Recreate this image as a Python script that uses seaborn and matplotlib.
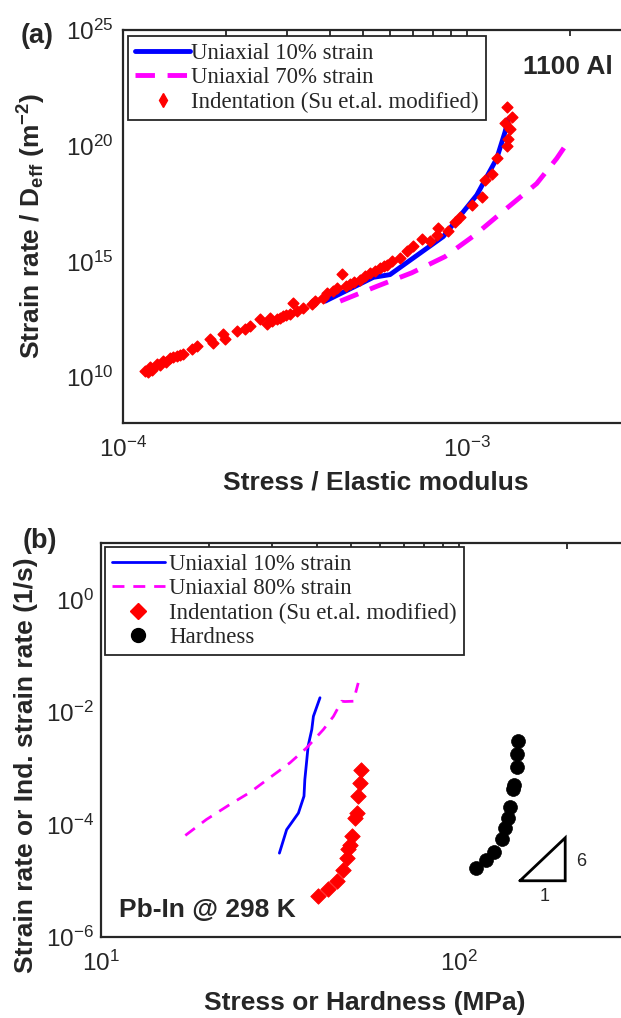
import numpy as np
import pandas as pd
import seaborn as sns
import matplotlib.pyplot as plt
from matplotlib.lines import Line2D
from matplotlib.ticker import FixedLocator, NullLocator, LogLocator, FuncFormatter

# ---- panel (a): 1100 Al ----
al_u10_x = [3.88e-4, 5.36e-4, 5.99e-4, 8.56e-4, 1.071e-3, 1.224e-3, 1.294e-3, 1.323e-3]
al_u10_y = [1.9e13, 2.04e14, 2.67e14, 1.18e16, 7.3e17, 2.74e19, 3.85e20, 1.43e21]

al_u70_x = [4.29e-4, 5.48e-4, 6.93e-4, 8.66e-4, 1.059e-3, 1.294e-3, 1.60e-3, 1.83e-3, 1.97e-3]
al_u70_y = [1.9e13, 8.3e13, 3.2e14, 1.6e15, 1.4e16, 1.7e17, 2.3e18, 2.8e19, 1.4e20]

al_ind_x = [1.161e-4, 1.186e-4, 1.199e-4, 1.22e-4, 1.256e-4, 1.28e-4, 1.312e-4, 1.34e-4,
            1.371e-4, 1.40e-4, 1.436e-4, 1.47e-4, 1.500e-4, 1.585e-4, 1.641e-4, 1.795e-4,
            1.832e-4, 1.959e-4, 1.982e-4, 2.143e-4, 2.270e-4, 2.344e-4, 2.506e-4, 2.624e-4,
            2.679e-4, 2.72e-4, 2.805e-4, 2.86e-4, 2.931e-4, 2.99e-4, 3.062e-4, 3.133e-4,
            3.206e-4, 3.350e-4, 3.548e-4, 3.622e-4, 3.828e-4, 3.917e-4, 4.093e-4, 4.2e-4,
            4.335e-4, 4.45e-4, 4.581e-4, 4.7e-4, 4.898e-4, 5.05e-4, 5.236e-4, 5.4e-4,
            5.598e-4, 5.75e-4, 5.861e-4, 6.053e-4, 6.397e-4, 6.699e-4, 6.998e-4, 7.413e-4,
            7.834e-4, 8.185e-4, 8.279e-4, 8.851e-4, 9.268e-4, 9.572e-4, 1.035e-3, 1.107e-3,
            1.132e-3, 1.183e-3, 1.225e-3, 1.309e-3, 1.324e-3, 1.340e-3, 1.294e-3, 1.355e-3,
            1.309e-3]
al_ind_y = [1.9e10, 1.6e10, 2.6e10, 2.1e10, 3.6e10, 3.2e10, 5.0e10, 4.3e10,
            6.6e10, 7.0e10, 8.3e10, 9.0e10, 9.8e10, 1.6e11, 2.2e11, 4.3e11,
            3.1e11, 7.1e11, 4.3e11, 9.8e11, 1.15e12, 1.6e12, 3.1e12, 1.9e12,
            3.6e12, 2.7e12, 3.1e12, 3.6e12, 4.3e12, 5.0e12, 5.4e12, 1.6e13,
            7.1e12, 9.8e12, 1.4e13, 1.9e13, 2.6e13, 4.4e13, 5.1e13, 7.0e13,
            2.8e14, 8.5e13, 1.0e14, 1.3e14, 1.6e14, 2.3e14, 3.2e14, 4.0e14,
            5.1e14, 6.0e14, 7.2e14, 1.0e15, 1.4e15, 2.7e15, 4.4e15, 9.3e15,
            7.8e15, 1.4e16, 2.7e16, 2.1e16, 5.2e16, 8.5e16, 2.7e17, 6.2e17,
            3.2e18, 6.2e18, 3.0e19, 1.0e20, 2.0e20, 5.4e20, 1.0e21, 1.7e21,
            4.6e21]

# ---- panel (b): Pb-In ----
pb_u10_x = [31.5, 33.0, 35.6, 36.9, 37.1, 37.5, 37.9, 38.8, 39.2, 40.9]
pb_u10_y = [3.1e-5, 8.1e-5, 1.6e-4, 3.2e-4, 6.3e-4, 1.25e-3, 2.5e-3, 4.9e-3, 8.4e-3, 1.8e-2]

pb_u80_x = [17.2, 19.7, 22.9, 26.1, 29.6, 33.7, 37.5, 41.8, 44.6, 47.0, 48.0, 50.7, 52.3]
pb_u80_y = [6.4e-5, 1.23e-4, 2.27e-4, 3.75e-4, 6.8e-4, 1.25e-3, 2.3e-3, 4.9e-3, 8.4e-3,
            1.56e-2, 1.54e-2, 1.56e-2, 3.3e-2]

pb_ind_x = [40.5, 43.1, 45.5, 47.5, 48.6, 49.0, 49.6, 50.1, 51.2, 51.8, 52.3, 52.9, 53.1]
pb_ind_y = [5.3e-6, 7.0e-6, 9.8e-6, 1.58e-5, 2.56e-5, 3.6e-5, 4.4e-5, 6.2e-5, 1.32e-4,
            1.6e-4, 3.2e-4, 5.5e-4, 9.5e-4]

pb_hard_x = [146.4, 145.5, 145.0, 142.7, 141.8, 138.8, 136.8, 134.7, 131.6, 125.2, 119.0, 111.6]
pb_hard_y = [3.0e-3, 1.8e-3, 1.04e-3, 5.1e-4, 4.3e-4, 2.06e-4, 1.32e-4, 8.7e-5, 5.6e-5,
             3.3e-5, 2.3e-5, 1.7e-5]

# slope triangle (1 : 6)
tri_x = [148, 198, 198, 148]
tri_y = [1.0e-5, 1.0e-5, 5.8e-5, 1.0e-5]

sns.set_style('white')
plt.rcParams['font.family'] = ['Liberation Sans', 'DejaVu Sans']
plt.rcParams['mathtext.fontset'] = 'custom'
plt.rcParams['mathtext.rm'] = 'Liberation Sans'
plt.rcParams['mathtext.bf'] = 'Liberation Sans:bold'
plt.rcParams['mathtext.it'] = 'Liberation Sans:italic'

W, H = 621, 1018
fig = plt.figure(figsize=(W / 100, H / 100), dpi=100)


def add_ax(l, t, r, b):
    return fig.add_axes([l / W, 1 - b / H, (r - l) / W, (b - t) / H])


ax1 = add_ax(122.8, 30, 630.5, 423.3)
ax2 = add_ax(101, 543.4, 629.8, 937)

pow10 = FuncFormatter(lambda v, pos: r'$\mathregular{10^{%d}}$' % round(np.log10(v)))
ink = '#262626'

for ax in (ax1, ax2):
    ax.set_xscale('log')
    ax.set_yscale('log')
    ax.xaxis.set_minor_locator(LogLocator(base=10, subs=np.arange(2, 10)))
    ax.yaxis.set_minor_locator(NullLocator())
    ax.xaxis.set_major_formatter(pow10)
    ax.yaxis.set_major_formatter(pow10)
    ax.tick_params(which='both', direction='in', top=True, right=False, width=1.3,
                   color=ink, labelsize=17.5, labelcolor=ink)
    ax.tick_params(which='major', length=7)
    ax.tick_params(which='minor', length=4)
    ax.tick_params(axis='x', pad=10)
    for s in ax.spines.values():
        s.set_linewidth(1.6)
        s.set_color(ink)

# panel (a)
sns.lineplot(x=al_u70_x, y=al_u70_y, sort=False, estimator=None, color='#FF00FF', lw=3.5, ax=ax1)
ax1.lines[-1].set_dashes((4, 2.6))
sns.lineplot(x=al_u10_x, y=al_u10_y, sort=False, estimator=None, color='#0000FF', lw=3.5, ax=ax1)
sns.scatterplot(x=al_ind_x, y=al_ind_y, marker='D', s=30, color='#FF0000', edgecolor='#FF0000',
                linewidth=1.0, ax=ax1, zorder=3)
ax1.set_xlim(1e-4, 3e-3)
ax1.set_ylim(1e8, 1e25)
ax1.yaxis.set_major_locator(FixedLocator([1e10, 1e15, 1e20, 1e25]))
ax1.tick_params(axis='y', pad=7)

h1 = [Line2D([], [], color='#0000FF', lw=3.5),
      Line2D([], [], color='#FF00FF', lw=3.5, dashes=(4, 2.6)),
      Line2D([], [], ls='none', marker='d', ms=7, color='#FF0000')]
lab1 = ['Uniaxial 10% strain', 'Uniaxial 70% strain', 'Indentation (Su et.al. modified)']
leg1 = ax1.legend(h1, lab1, loc='upper left', bbox_to_anchor=(0.0108, 0.9847),
                  prop={'family': 'Liberation Serif', 'size': 16.5}, fancybox=False,
                  edgecolor=ink, framealpha=1, handlelength=2.4, handletextpad=0.05,
                  labelspacing=0.15, borderpad=0.3, borderaxespad=0)
leg1.get_frame().set_linewidth(1.3)

# panel (b)
sns.lineplot(x=pb_u10_x, y=pb_u10_y, sort=False, estimator=None, color='#0000FF', lw=2, ax=ax2)
sns.lineplot(x=pb_u80_x, y=pb_u80_y, sort=False, estimator=None, color='#FF00FF', lw=2, ax=ax2)
ax2.lines[-1].set_dashes((4.3, 3.2))
sns.scatterplot(x=pb_ind_x, y=pb_ind_y, marker='D', s=62, color='#FF0000', edgecolor='#FF0000',
                linewidth=0.6, ax=ax2, zorder=3)
sns.scatterplot(x=pb_hard_x, y=pb_hard_y, marker='o', s=100, color='black', edgecolor='black',
                linewidth=0.5, ax=ax2, zorder=3)
ax2.plot(tri_x, tri_y, color='black', lw=2, solid_joinstyle='miter')
ax2.set_xlim(10, 300)
ax2.set_ylim(1e-6, 1e1)
ax2.yaxis.set_major_locator(FixedLocator([1e-6, 1e-4, 1e-2, 1e0]))
ax2.tick_params(axis='y', pad=5)

h2 = [Line2D([], [], color='#0000FF', lw=2),
      Line2D([], [], color='#FF00FF', lw=2, dashes=(4.3, 3.2)),
      Line2D([], [], ls='none', marker='D', ms=8.5, color='#FF0000'),
      Line2D([], [], ls='none', marker='o', ms=10, color='black')]
lab2 = ['Uniaxial 10% strain', 'Uniaxial 80% strain', 'Indentation (Su et.al. modified)', 'Hardness']
leg2 = ax2.legend(h2, lab2, loc='upper left', bbox_to_anchor=(0.0076, 0.9916),
                  prop={'family': 'Liberation Serif', 'size': 16.5}, fancybox=False,
                  edgecolor=ink, framealpha=1, handlelength=2.3, handletextpad=0.2,
                  labelspacing=0.15, borderpad=0.3, borderaxespad=0)
leg2.get_frame().set_linewidth(1.3)

# text
bold = dict(weight='bold', color=ink, ha='center', va='center')
fig.text(37.5 / W, 1 - 36 / H, '(a)', size=19.5, **bold)
fig.text(39.5 / W, 1 - 541 / H, '(b)', size=19.5, **bold)
fig.text(567.5 / W, 1 - 67 / H, '1100 Al', size=19, **bold)
fig.text(376 / W, 1 - 483 / H, 'Stress / Elastic modulus', size=19, **bold)
fig.text(32 / W, 1 - 226 / H, r'Strain rate / D$_{\mathbf{eff}}$ (m$^{\mathbf{-2}}$)',
         size=19, rotation=90, **bold)
fig.text(365 / W, 1 - 1003 / H, 'Stress or Hardness (MPa)', size=19, **bold)
fig.text(26 / W, 1 - 765 / H, 'Strain rate or Ind. strain rate (1/s)', size=19,
         rotation=90, **bold)
fig.text(118.8 / W, 1 - 910 / H, 'Pb-In @ 298 K', size=19, weight='bold', color=ink,
         ha='left', va='center')
fig.text(581 / W, 1 - 861.7 / H, '6', size=13, color=ink, ha='center', va='center')
fig.text(545 / W, 1 - 896.7 / H, '1', size=13, color=ink, ha='center', va='center')

fig.savefig('out.png', dpi=100)
